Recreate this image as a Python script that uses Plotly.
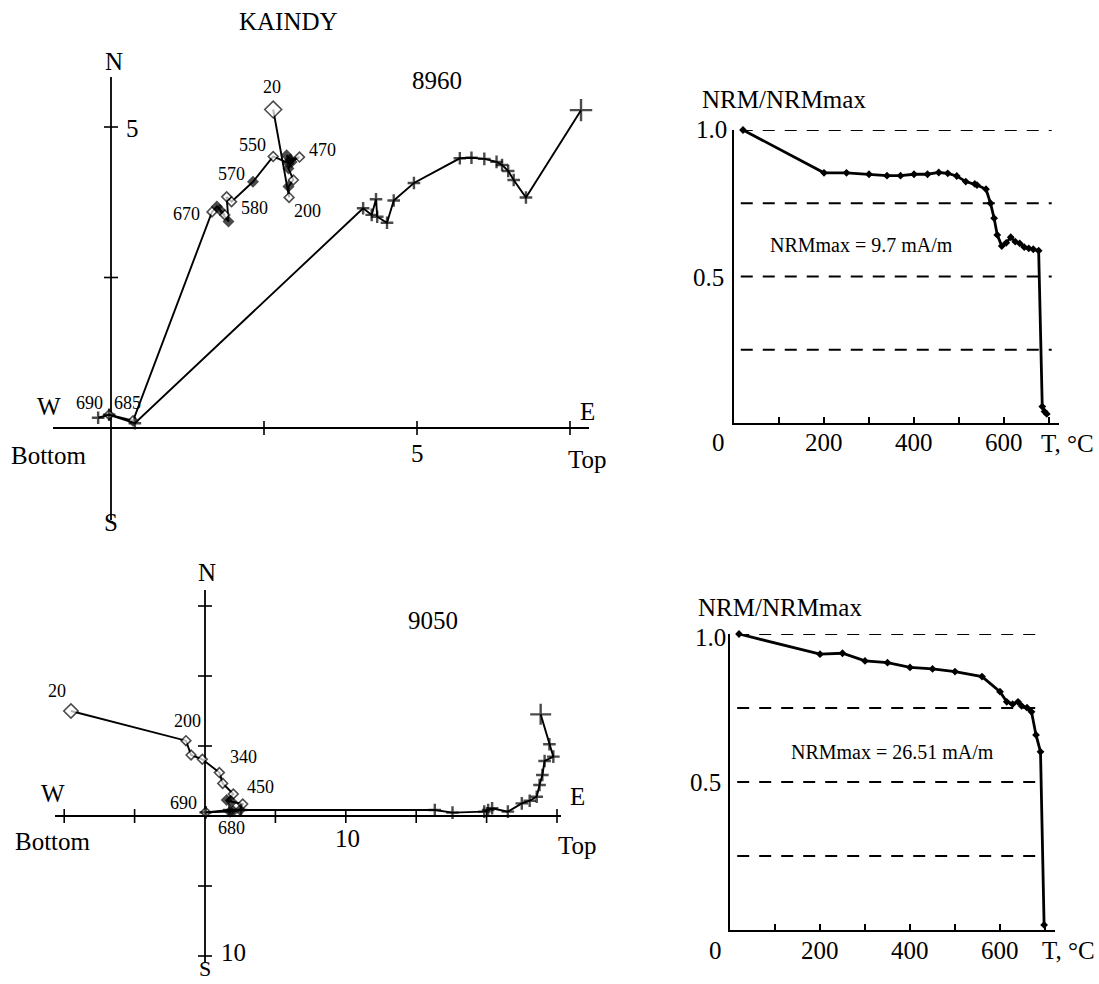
import plotly.graph_objects as go

W, H = 1099, 984
FONT = "Liberation Serif"

# ---------------- DATA ----------------
# Sample 8960 orthogonal diagram, diamonds (one projection)
z8960_diam_x = [2.65, 2.91, 2.90, 2.98, 2.90, 2.95, 2.87, 2.93, 3.08, 2.90, 2.65, 2.32,
                1.97, 1.89, 1.92, 1.78, 1.86, 1.73, 1.65, 0.36, -0.03]
z8960_diam_y = [5.29, 3.83, 4.01, 4.12, 4.31, 4.42, 4.53, 4.46, 4.50, 4.40, 4.51, 4.09,
                3.76, 3.84, 3.43, 3.62, 3.54, 3.68, 3.59, 0.12, 0.22]
z8960_diam_filled = [0, 0, 1, 0, 1, 1, 1, 1, 0, 1, 0, 1, 0, 0, 1, 1, 0, 1, 0, 0, 0]
# Sample 8960, crosses (other projection)
z8960_cross_x = [7.68, 6.78, 6.58, 6.49, 6.39, 6.30, 6.10, 5.89, 5.70, 4.95, 4.62, 4.51,
                 4.35, 4.33, 4.26, 4.12, 0.39, -0.03, -0.21]
z8960_cross_y = [5.28, 3.83, 4.12, 4.27, 4.37, 4.42, 4.47, 4.49, 4.48, 4.07, 3.78, 3.41,
                 3.51, 3.80, 3.54, 3.65, 0.08, 0.22, 0.17]

# Sample 9050 orthogonal diagram
z9050_diam_x = [-9.52, -1.35, -0.99, -0.19, 1.02, 1.26, 2.01, 1.54, 1.90, 2.68, 2.49, 2.00, 1.78, 0.05]
z9050_diam_y = [7.50, 5.38, 4.36, 4.05, 3.10, 2.33, 1.57, 1.14, 1.02, 0.86, 0.43, 0.36, 0.31, 0.26]
z9050_diam_filled = [0, 0, 0, 0, 0, 0, 0, 1, 1, 0, 1, 1, 1, 0]
z9050_cross_x = [23.84, 24.46, 24.74, 24.12, 23.96, 23.76, 23.56, 23.06, 22.50, 21.51, 20.39,
                 20.11, 19.83, 17.58, 16.32, 2.56, 1.72, 0.05]
z9050_cross_y = [7.26, 5.12, 4.24, 3.93, 2.93, 2.21, 1.38, 1.09, 0.90, 0.31, 0.55,
                 0.43, 0.31, 0.24, 0.43, 0.43, 0.43, 0.26]

# Thermal demagnetization curves (T in deg C, NRM/NRMmax)
t_8960 = [20, 200, 250, 300, 340, 370, 400, 430, 455, 475, 495, 515, 535, 540, 560, 570,
          578, 585, 595, 605, 615, 625, 635, 645, 655, 665, 677, 685, 690, 695]
nrm_8960 = [1.0, 0.854, 0.854, 0.849, 0.844, 0.844, 0.849, 0.849, 0.855, 0.852, 0.843, 0.824,
            0.816, 0.812, 0.798, 0.750, 0.699, 0.642, 0.604, 0.615, 0.634, 0.619, 0.613, 0.600,
            0.596, 0.593, 0.588, 0.056, 0.039, 0.031]
t_9050 = [20, 200, 250, 300, 350, 400, 450, 500, 560, 600, 615, 628, 640, 648, 660, 670,
          680, 690, 698]
nrm_9050 = [1.0, 0.932, 0.935, 0.909, 0.903, 0.887, 0.882, 0.873, 0.856, 0.805, 0.771, 0.763,
            0.771, 0.757, 0.751, 0.737, 0.659, 0.602, 0.017]

dash_levels = [0.25, 0.5, 0.75, 1.0]
nrm_xticks = [100, 200, 300, 400, 500, 600, 700]
nrm_xlabels = [200, 400, 600]

# ---------------- GEOMETRY (pixels) ----------------
PA = dict(box=(30, 605, 45, 535), origin=(111, 428), scale=(61.2, 60.2))
PC = dict(box=(30, 605, 580, 978), origin=(205, 816), scale=(14.08, 14.0))


def zij_geom(p):
    x0, x1, yt, yb = p['box']
    ox, oy = p['origin']
    sx, sy = p['scale']
    dom_x = [x0 / W, x1 / W]
    dom_y = [1 - yb / H, 1 - yt / H]
    rx = [(x0 - ox) / sx, (x1 - ox) / sx]
    ry = [(oy - yb) / sy, (oy - yt) / sy]
    return dom_x, dom_y, rx, ry


def px2d(p, px, py):
    ox, oy = p['origin']
    sx, sy = p['scale']
    return (px - ox) / sx, (oy - py) / sy


fig = go.Figure()

BLACK = "black"


def diamond_trace(xs, ys, filled, big, small, xa, ya):
    sizes = [big] + [small] * (len(xs) - 1)
    colors = [BLACK if f else "white" for f in filled]
    return go.Scatter(x=xs, y=ys, mode="lines+markers", xaxis=xa, yaxis=ya,
                      line=dict(color=BLACK, width=1.9),
                      marker=dict(symbol="diamond", size=sizes, color=colors,
                                  line=dict(color=BLACK, width=1.6)),
                      cliponaxis=False, showlegend=False, hoverinfo="skip")


def cross_trace(xs, ys, big, small, xa, ya):
    sizes = [big] + [small] * (len(xs) - 1)
    return go.Scatter(x=xs, y=ys, mode="lines+markers", xaxis=xa, yaxis=ya,
                      line=dict(color=BLACK, width=1.9),
                      marker=dict(symbol="cross-thin", size=sizes, color=BLACK,
                                  line=dict(color=BLACK, width=2.4)),
                      cliponaxis=False, showlegend=False, hoverinfo="skip")


def tick_trace(xs, ys, sym, xa, ya):
    return go.Scatter(x=xs, y=ys, mode="markers", xaxis=xa, yaxis=ya,
                      marker=dict(symbol=sym, size=10, color=BLACK,
                                  line=dict(color=BLACK, width=1.6)),
                      cliponaxis=False, showlegend=False, hoverinfo="skip")


# Panel A: 8960 orthogonal plot
fig.add_trace(diamond_trace(z8960_diam_x, z8960_diam_y, z8960_diam_filled, 13, 7.5, "x", "y"))
fig.add_trace(cross_trace(z8960_cross_x, z8960_cross_y, 16, 9, "x", "y"))
fig.add_trace(tick_trace([2.5, 5, 7.5], [0, 0, 0], "line-ns", "x", "y"))
fig.add_trace(tick_trace([0, 0], [2.5, 5], "line-ew", "x", "y"))

# Panel C: 9050 orthogonal plot
fig.add_trace(diamond_trace(z9050_diam_x, z9050_diam_y, z9050_diam_filled, 11, 7.5, "x3", "y3"))
fig.add_trace(cross_trace(z9050_cross_x, z9050_cross_y, 15, 9, "x3", "y3"))
fig.add_trace(tick_trace([-10, -5, 5, 10, 15, 20, 25], [0] * 7, "line-ns", "x3", "y3"))
fig.add_trace(tick_trace([0] * 5, [15, 10, 5, -5, -10], "line-ew", "x3", "y3"))

# Panels B and D: NRM curves
for t, v, xa, ya in [(t_8960, nrm_8960, "x2", "y2"), (t_9050, nrm_9050, "x4", "y4")]:
    fig.add_trace(go.Scatter(x=t, y=v, mode="lines+markers", xaxis=xa, yaxis=ya,
                             line=dict(color=BLACK, width=2.8),
                             marker=dict(symbol="diamond", size=6, color=BLACK),
                             cliponaxis=False, showlegend=False, hoverinfo="skip"))

shapes = []
# Orthogonal-plot axis lines
for p, xa, ya, hx, vy in [(PA, "x", "y", (53, 589), (77, 520)),
                          (PC, "x3", "y3", (55, 561), (590, 963))]:
    ox, oy = p['origin']
    hx0, _ = px2d(p, hx[0], oy)
    hx1, _ = px2d(p, hx[1], oy)
    _, vy0 = px2d(p, ox, vy[0])
    _, vy1 = px2d(p, ox, vy[1])
    shapes.append(dict(type="line", xref=xa, yref=ya, x0=hx0, x1=hx1, y0=0, y1=0,
                       line=dict(color=BLACK, width=1.8), layer="below"))
    shapes.append(dict(type="line", xref=xa, yref=ya, x0=0, x1=0, y0=vy1, y1=vy0,
                       line=dict(color=BLACK, width=1.8), layer="below"))

# dashed levels in NRM panels
for xa, ya, xr in [("x2", "y2", (15, 706)), ("x4", "y4", (16, 700))]:
    for lv in dash_levels:
        shapes.append(dict(type="line", xref=xa, yref=ya, x0=xr[0], x1=xr[1], y0=lv, y1=lv,
                           line=dict(color=BLACK, width=1.8, dash="12px,10px"), layer="below"))

annotations = []


def ann(text, px, py, size=25, xanchor="center", xref="paper", x=None):
    annotations.append(dict(text=text, x=(px / W if x is None else x), y=1 - py / H,
                            xref=xref, yref="paper", xanchor=xanchor, yanchor="middle",
                            showarrow=False, borderpad=0,
                            font=dict(family=FONT, size=size, color=BLACK)))


# Panel A texts
ann("KAINDY", 288, 22)
ann("N", 114, 62)
ann("8960", 437, 80)
ann("5", 132, 128)
for txt, px, py in [("20", 272, 87), ("550", 252, 145), ("470", 322, 150), ("570", 231, 174),
                    ("580", 254, 208), ("670", 186, 214), ("200", 307, 211),
                    ("690", 89, 403), ("685", 127, 403)]:
    ann(txt, px, py, 18)
ann("W", 49, 407)
ann("E", 587, 411)
ann("Bottom", 49, 455)
ann("5", 417, 453)
ann("Top", 587, 459)
ann("S", 111, 522)

# Panel C texts
ann("N", 207, 572)
ann("9050", 433, 620)
for txt, px, py in [("20", 57, 691), ("200", 187, 721), ("340", 243, 757), ("450", 260, 787),
                    ("690", 183, 803), ("680", 231, 828)]:
    ann(txt, px, py, 18)
ann("W", 53, 793)
ann("E", 577, 796)
ann("Bottom", 53, 841)
ann("10", 347, 838)
ann("Top", 577, 845)
ann("10", 220, 952, xanchor="left")
ann("S", 205, 968, 22)

# Panel B texts
ann("NRM/NRMmax", 784, 100)
ann("1.0", 711, 130)
ann("0.5", 708, 277)
ann("NRMmax = 9.7 mA/m", 861, 245, 20)
ann("0", 718, 442)
for v in nrm_xlabels:
    ann(str(v), 0, 442, xref="x2", x=v)
ann("T, °C", 1067, 443, 25)

# Panel D texts
ann("NRM/NRMmax", 780, 607)
ann("1.0", 710, 637)
ann("0.5", 705, 782)
ann("NRMmax = 26.51 mA/m", 892, 752, 20)
ann("0", 715, 950)
for v in nrm_xlabels:
    ann(str(v), 0, 950, xref="x4", x=v)
ann("T, °C", 1068, 950, 25)

dA = zij_geom(PA)
dC = zij_geom(PC)

hidden = dict(visible=False, showgrid=False, zeroline=False, fixedrange=True)


def nrm_x(dom):
    return dict(domain=dom, range=[0, 722.2], showline=True, linecolor=BLACK, linewidth=2.2,
                ticks="inside", tickvals=nrm_xticks, ticklen=6, tickwidth=1.6, tickcolor=BLACK,
                showticklabels=False, showgrid=False, zeroline=False, fixedrange=True)


def nrm_y(dom, anchor):
    return dict(domain=dom, range=[0, 1], showline=True, linecolor=BLACK, linewidth=2.2,
                ticks="", showticklabels=False, showgrid=False, zeroline=False,
                fixedrange=True, anchor=anchor)


fig.update_layout(
    width=W, height=H, margin=dict(l=0, r=0, t=0, b=0),
    paper_bgcolor="white", plot_bgcolor="rgba(0,0,0,0)",
    showlegend=False,
    xaxis=dict(domain=dA[0], range=dA[2], anchor="y", **hidden),
    yaxis=dict(domain=dA[1], range=dA[3], anchor="x", **hidden),
    xaxis3=dict(domain=dC[0], range=dC[2], anchor="y3", **hidden),
    yaxis3=dict(domain=dC[1], range=dC[3], anchor="x3", **hidden),
    xaxis2=dict(anchor="y2", **nrm_x([734 / W, 1059 / W])),
    yaxis2=nrm_y([1 - 423 / H, 1 - 130 / H], "x2"),
    xaxis4=dict(anchor="y4", **nrm_x([730 / W, 1055 / W])),
    yaxis4=nrm_y([1 - 930 / H, 1 - 634 / H], "x4"),
    shapes=shapes,
    annotations=annotations,
)

fig.write_html(
    "out.html",
    config={"displayModeBar": False},
    post_script="document.body.style.margin='0px';"
                "document.documentElement.style.overflow='hidden';"
                "document.body.style.overflow='hidden';",
)
